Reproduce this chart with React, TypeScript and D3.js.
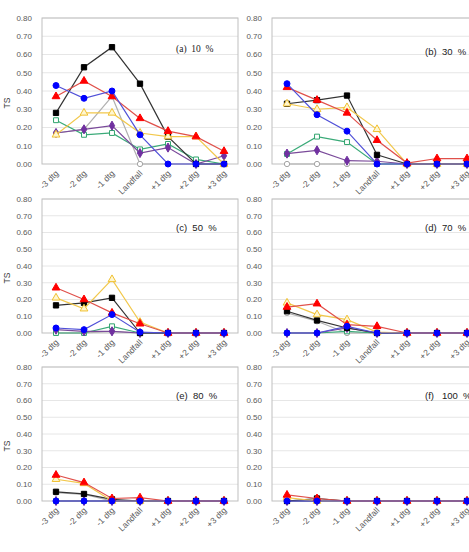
import React, { useEffect, useRef } from 'react';
import * as d3 from 'd3';

const categories = ['-3 dtg', '-2 dtg', '-1 dtg', 'Landfall', '+1 dtg', '+2 dtg', '+3 dtg'];
const yTicks = [0, 0.1, 0.2, 0.3, 0.4, 0.5, 0.6, 0.7, 0.8];
const panelLabels = ['(a)  10  %', '(b)  30  %', '(c)  50  %', '(d)  70  %', '(e)  80  %', '(f)   100  %'];

// one row per panel (a..f), one value per category
const blackTS = [
  [0.28, 0.53, 0.64, 0.44, 0.15, 0, 0],
  [0.33, 0.35, 0.375, 0.05, 0, 0, 0],
  [0.165, 0.18, 0.21, 0, 0, 0, 0],
  [0.13, 0.075, 0.03, 0, 0, 0, 0],
  [0.055, 0.042, 0.01, 0, 0, 0, 0],
  [0, 0.015, 0, 0, 0, 0, 0],
];
const redTS = [
  [0.37, 0.455, 0.37, 0.25, 0.18, 0.15, 0.07],
  [0.42, 0.35, 0.28, 0.13, 0.005, 0.03, 0.03],
  [0.27, 0.2, 0.12, 0.055, 0, 0, 0],
  [0.155, 0.175, 0.05, 0.04, 0, 0, 0],
  [0.155, 0.11, 0.015, 0.02, 0, 0, 0],
  [0.036, 0.015, 0, 0, 0, 0, 0],
];
const blueTS = [
  [0.43, 0.36, 0.4, 0.16, 0, 0, 0],
  [0.44, 0.27, 0.18, 0, 0, 0, 0],
  [0.03, 0.02, 0.11, 0.005, 0, 0, 0],
  [0, 0, 0.04, 0, 0, 0, 0],
  [0, 0, 0, 0, 0, 0, 0],
  [0, 0, 0, 0, 0, 0, 0],
];
const yellowTS = [
  [0.16, 0.28, 0.28, 0.17, 0.15, 0.15, 0],
  [0.33, 0.3, 0.31, 0.19, 0, 0, 0],
  [0.21, 0.145, 0.32, 0.065, 0, 0, 0],
  [0.18, 0.11, 0.08, 0.005, 0, 0, 0],
  [0.13, 0.105, 0, 0, 0, 0, 0],
  [0.02, 0, 0, 0, 0, 0, 0],
];
const greenTS = [
  [0.24, 0.16, 0.17, 0.08, 0.11, 0.025, 0],
  [0.055, 0.15, 0.12, 0, 0, 0, 0],
  [0, 0, 0.04, 0, 0, 0, 0],
  [0, 0, 0.01, 0, 0, 0, 0],
  [0, 0, 0, 0, 0, 0, 0],
  [0, 0, 0, 0, 0, 0, 0],
];
const purpleTS = [
  [0.17, 0.19, 0.21, 0.06, 0.09, 0, 0.045],
  [0.057, 0.075, 0.018, 0.015, 0, 0, 0],
  [0.02, 0.01, 0.01, 0, 0, 0, 0],
  [0, 0, 0.03, 0, 0, 0, 0],
  [0, 0, 0, 0, 0, 0, 0],
  [0, 0, 0, 0, 0, 0, 0],
];
const grayTS = [
  [0.17, 0.19, 0.37, 0, 0, 0, 0],
  [0, 0, 0, 0, 0, 0, 0],
  [0, 0, 0.01, 0, 0, 0, 0],
  [0.12, 0.07, 0, 0, 0, 0, 0],
  [0.05, 0.04, 0, 0, 0, 0, 0],
  [0, 0, 0, 0, 0, 0, 0],
];

// drawing order: later ones sit on top
const series = [
  { values: grayTS, line: '#b0b0b0', marker: 'circle', fill: '#ffffff', stroke: '#a6a6a6', size: 22 },
  { values: greenTS, line: '#3aaa78', marker: 'square', fill: '#ffffff', stroke: '#2ea36c', size: 24 },
  { values: purpleTS, line: '#7a4a9a', marker: 'diamond', fill: '#7030a0', stroke: '#7030a0', size: 24 },
  { values: blackTS, line: '#333333', marker: 'square', fill: '#000000', stroke: '#000000', size: 28 },
  { values: yellowTS, line: '#f2c84b', marker: 'triangle', fill: '#fff6d0', stroke: '#f0c030', size: 26 },
  { values: redTS, line: '#e0504a', marker: 'triangle', fill: '#ff0000', stroke: '#ff0000', size: 26 },
  { values: blueTS, line: '#5050d8', marker: 'circle', fill: '#0000ff', stroke: '#0000ff', size: 28 },
];

const symbols = {
  circle: d3.symbolCircle,
  square: d3.symbolSquare,
  triangle: d3.symbolTriangle,
  diamond: d3.symbolDiamond,
};

const W = 469;
const H = 552;
const colX = [[42, 238], [272, 482]];
const rowY = [[18, 164], [199, 333], [367, 501]];

const App = () => {
  const svgRef = useRef(null);

  useEffect(() => {
    const svg = d3.select(svgRef.current);
    svg.selectAll('*').remove();
    const font = '"Liberation Sans", Arial, sans-serif';

    panelLabels.forEach((label, p) => {
      const col = p % 2;
      const row = Math.floor(p / 2);
      const [x0, x1] = colX[col];
      const [y0, y1] = rowY[row];

      const x = d3.scaleBand().domain(categories).range([x0, x1]);
      const y = d3.scaleLinear().domain([0, 0.8]).range([y1, y0]);
      const cx = (c) => x(c) + x.bandwidth() / 2;

      const g = svg.append('g');

      // gridlines
      g.selectAll('line.grid')
        .data(yTicks.slice(1))
        .join('line')
        .attr('x1', x0).attr('x2', x1)
        .attr('y1', (d) => y(d)).attr('y2', (d) => y(d))
        .attr('stroke', '#e6e6e6')
        .attr('stroke-width', 1);

      // frame
      g.append('rect')
        .attr('x', x0).attr('y', y0)
        .attr('width', x1 - x0).attr('height', y1 - y0)
        .attr('fill', 'none')
        .attr('stroke', '#bfbfbf')
        .attr('stroke-width', 1);

      // y axis labels
      g.selectAll('text.ytick')
        .data(yTicks)
        .join('text')
        .attr('x', x0 - 10)
        .attr('y', (d) => y(d))
        .attr('dy', '0.35em')
        .attr('text-anchor', 'end')
        .attr('font-family', font)
        .attr('font-size', 8)
        .attr('fill', '#595959')
        .text((d) => d.toFixed(2));

      if (col === 0) {
        g.append('text')
          .attr('transform', `translate(10,${(y0 + y1) / 2 + 12}) rotate(-90)`)
          .attr('text-anchor', 'middle')
          .attr('font-family', font)
          .attr('font-size', 8.5)
          .attr('fill', '#404040')
          .text('TS');
      }

      // x axis labels
      g.selectAll('text.xtick')
        .data(categories)
        .join('text')
        .attr('transform', (d) => `translate(${cx(d) + 3},${y1 + 10}) rotate(-45)`)
        .attr('text-anchor', 'end')
        .attr('font-family', font)
        .attr('font-size', 8.5)
        .attr('fill', '#595959')
        .text((d) => d);

      // panel label
      g.append('text')
        .attr('x', col === 0 ? x0 + 134 : x0 + 153)
        .attr('y', row === 0 ? (col === 0 ? 52 : 55) : y0 + 32)
        .attr('font-family', p === 0 ? '"Liberation Serif", serif' : font)
        .attr('font-size', 9.5)
        .attr('fill', '#222')
        .style('white-space', 'pre')
        .text(label);

      const line = d3.line()
        .x((d, i) => cx(categories[i]))
        .y((d) => y(d));

      series.forEach((s) => {
        const vals = s.values[p];
        g.append('path')
          .datum(vals)
          .attr('fill', 'none')
          .attr('stroke', s.line)
          .attr('stroke-width', 1.2)
          .attr('d', line);

        const sym = d3.symbol().type(symbols[s.marker]).size(s.size);
        g.selectAll(null)
          .data(vals)
          .join('path')
          .attr('transform', (d, i) => `translate(${cx(categories[i])},${y(d)})`)
          .attr('d', sym)
          .attr('fill', s.fill)
          .attr('stroke', s.stroke)
          .attr('stroke-width', 1);
      });
    });
  }, []);

  return (
    <svg ref={svgRef} width={W} height={H}
      style={{ position: 'absolute', left: 0, top: 0, background: '#fff' }} />
  );
};

export default App;
